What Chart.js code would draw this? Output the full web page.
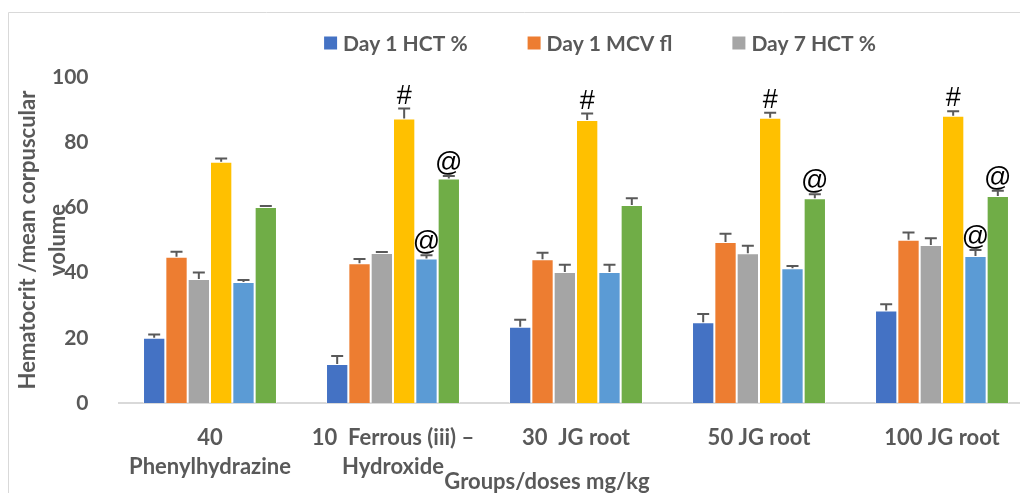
<!DOCTYPE html>
<html><head><meta charset="utf-8">
<script src="https://cdn.jsdelivr.net/npm/chart.js@4.4.0/dist/chart.umd.min.js"></script>
<style>
html,body{margin:0;padding:0;background:#fff;overflow:hidden;width:1020px;height:493px}
#wrap{width:1040px;height:493px;position:relative}
canvas{display:block}
</style></head><body>
<div id="wrap"><canvas id="c" width="1040" height="493"></canvas></div>
<script>
const categories = [["40","Phenylhydrazine"],["10  Ferrous (iii) \u2013","Hydroxide"],["30  JG root"],["50 JG root"],["100 JG root"]];
const seriesNames = ["Day 1 HCT %","Day 1 MCV fl","Day 7 HCT %","Series 4","Series 5","Series 6"];
const legendShown = [true,true,true,false,false,false];
const day1HCT    = [20.0, 12.0, 23.4, 24.8, 28.4];
const day1HCTErr = [1.0, 2.4, 2.1, 2.5, 1.9];
const day1MCV    = [44.9, 42.9, 44.1, 49.4, 50.1];
const day1MCVErr = [1.5, 1.3, 2.0, 2.5, 2.2];
const day7HCT    = [38.0, 46.0, 40.2, 45.9, 48.5];
const day7HCTErr = [2.0, 0.3, 2.2, 2.3, 2.0];
const series4    = [74.0, 87.3, 86.8, 87.5, 88.1];
const series4Err = [1.0, 3.0, 2.0, 1.5, 1.4];
const series5    = [37.1, 44.3, 40.2, 41.3, 45.1];
const series5Err = [0.6, 1.0, 2.2, 0.7, 1.8];
const series6    = [60.1, 68.9, 60.7, 62.8, 63.5];
const series6Err = [0.3, 0.7, 2.1, 1.2, 1.6];
const series4Marks = ["","#","#","#","#"];
const series5Marks = ["","@","","","@"];
const series6Marks = ["","@","","@","@"];
const yTicks = [0,20,40,60,80,100];
const yTitle = ["Hematocrit /mean corpuscular","volume"];
const xTitle = "Groups/doses mg/kg";

const colors = ["#4472C4","#ED7D31","#A5A5A5","#FFC000","#5B9BD5","#70AD47"];
const values = [day1HCT, day1MCV, day7HCT, series4, series5, series6];
const errors = [day1HCTErr, day1MCVErr, day7HCTErr, series4Err, series5Err, series6Err];
const marks = [null, null, null, series4Marks, series5Marks, series6Marks];
const FONT = "Lato, 'Open Sans', sans-serif";
const TXT = "#595959";

const datasets = values.map((v,i)=>({
  label: seriesNames[i], data: v, backgroundColor: colors[i],
  borderColor: "rgba(255,255,255,0.55)", borderWidth: 1, borderSkipped: 'bottom',
  categoryPercentage: 0.732, barPercentage: 1.0
}));

const extras = {
  id: 'extras',
  beforeDraw(chart){
    const ctx = chart.ctx;
    ctx.save();
    ctx.strokeStyle = "#d9d9d9"; ctx.lineWidth = 1;
    ctx.beginPath(); ctx.moveTo(8.5, 493); ctx.lineTo(8.5, 12.5); ctx.lineTo(1040, 12.5); ctx.stroke();
    ctx.restore();
  },
  afterDatasetsDraw(chart){
    const ctx = chart.ctx, ys = chart.scales.y;
    ctx.save();
    chart.data.datasets.forEach((ds, di)=>{
      const meta = chart.getDatasetMeta(di);
      meta.data.forEach((bar, j)=>{
        const top = ys.getPixelForValue(values[di][j]);
        const et = ys.getPixelForValue(values[di][j] + errors[di][j]);
        ctx.strokeStyle = "#595959"; ctx.lineWidth = 2;
        ctx.beginPath(); ctx.moveTo(bar.x, top); ctx.lineTo(bar.x, et);
        ctx.moveTo(bar.x-6, et); ctx.lineTo(bar.x+6, et); ctx.stroke();
        if (marks[di] && marks[di][j]) {
          ctx.fillStyle = "#000"; ctx.font = "27px 'Liberation Sans', sans-serif";
          ctx.textAlign = "center"; ctx.textBaseline = "alphabetic";
          ctx.fillText(marks[di][j], bar.x, et - 5);
        }
      });
    });
    ctx.restore();
  },
  afterDraw(chart){
    const ctx = chart.ctx, ca = chart.chartArea;
    ctx.save();
    // legend
    ctx.font = "bold 21px " + FONT; ctx.textBaseline = "middle"; ctx.textAlign = "left";
    const items = seriesNames.map((n,i)=>({n, c: colors[i], show: legendShown[i]})).filter(o=>o.show);
    const box = 13, gap = 6, spacing = 60;
    let total = 0;
    items.forEach((it,k)=>{ it.w = box + gap + ctx.measureText(it.n).width; total += it.w + (k ? spacing : 0); });
    let x = 600 - total/2; const ly = 43;
    items.forEach(it=>{
      ctx.fillStyle = it.c; ctx.fillRect(x, ly - box/2, box, box);
      ctx.fillStyle = TXT; ctx.fillText(it.n, x + box + gap, ly + 1);
      x += it.w + spacing;
    });
    // x title
    ctx.font = "bold 22px " + FONT; ctx.textAlign = "center";
    ctx.fillText(xTitle, 547, 482);
    // y title
    ctx.translate(0, (ca.top + ca.bottom)/2); ctx.rotate(-Math.PI/2);
    ctx.fillText(yTitle[0], 0, 28);
    ctx.fillText(yTitle[1], 0, 58);
    ctx.restore();
  }
};

new Chart(document.getElementById('c'), {
  type: 'bar',
  data: { labels: categories, datasets },
  options: {
    responsive: false, animation: false,
    layout: { padding: { top: 77, right: 6.5, left: 0, bottom: 0 } },
    plugins: { legend: { display: false }, tooltip: { enabled: false } },
    scales: {
      x: {
        grid: { display: false },
        border: { display: true, color: "#d9d9d9", width: 2 },
        ticks: { color: TXT, font: { family: FONT, size: 22, weight: 'bold', lineHeight: 1.3 }, padding: 13, maxRotation: 0, autoSkip: false },
        afterFit(s){ s.height = 90; }
      },
      y: {
        min: 0, max: 100,
        afterBuildTicks(s){ s.ticks = yTicks.map(v=>({value: v})); },
        grid: { display: false },
        border: { display: false },
        ticks: { color: TXT, font: { family: FONT, size: 21, weight: 'bold' }, padding: 22 },
        afterFit(s){ s.width = 118.5; }
      }
    }
  },
  plugins: [extras]
});
</script>
</body></html>
